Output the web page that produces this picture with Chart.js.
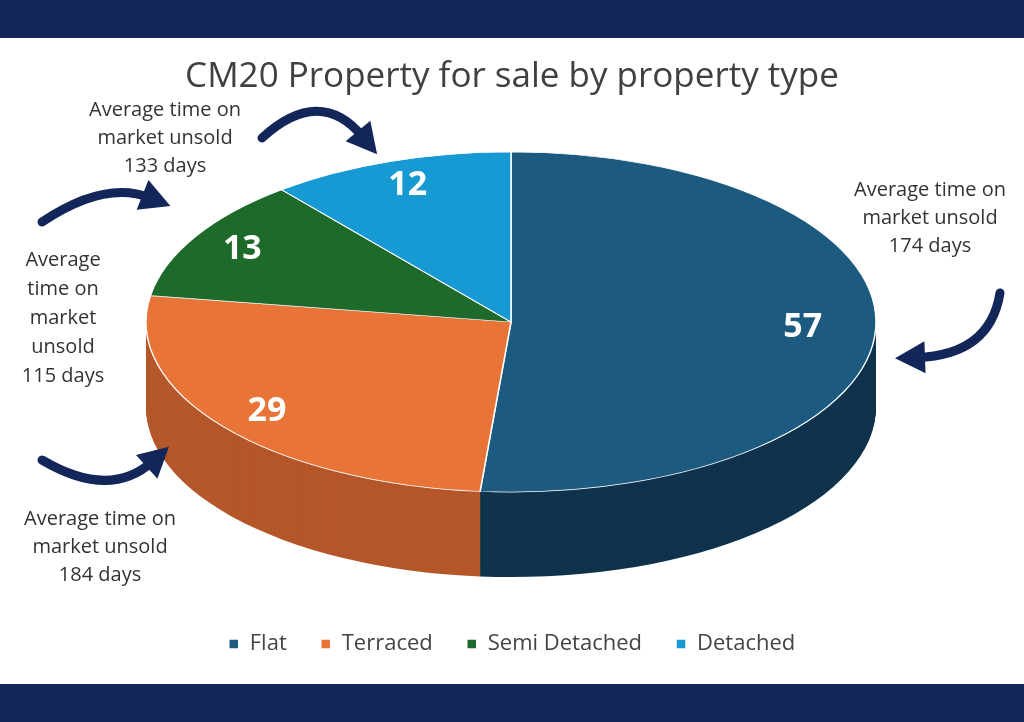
<!DOCTYPE html>
<html lang="en">
<head>
<meta charset="utf-8">
<title>CM20 Property for sale by property type</title>
<script src="https://cdn.jsdelivr.net/npm/chart.js"></script>
<style>
  html, body { margin: 0; padding: 0; background: #fff; }
  #wrap { width: 1024px; height: 722px; }
</style>
</head>
<body>
<div id="wrap"><canvas id="chart" width="1024" height="722"></canvas></div>
<script>
// data
const categories = ['Flat', 'Terraced', 'Semi Detached', 'Detached'];
const counts = [57, 29, 13, 12];
const topColours = ['#1c5a7f', '#e97438', '#1e6a2b', '#1799d4'];
const sideColours = ['#10334d', '#b4572a', '#134a1d', '#0f6c99'];

// geometry of the tilted pie (screen pixels)
const CX = 511, CY = 322, R = 365, TILT = 0.466, DEPTH = 85;

function tilt(ctx, chart, dy) {
  const arc = chart.getDatasetMeta(0).data[0];
  ctx.translate(CX, CY + dy);
  ctx.scale(1, TILT);
  ctx.translate(-arc.x, -arc.y);
}

const pie3d = {
  id: 'pie3d',
  beforeDraw(chart) {
    const ctx = chart.ctx;
    ctx.save();
    ctx.fillStyle = '#13265a';
    ctx.fillRect(0, 0, 1024, 38);
    ctx.fillRect(0, 684, 1024, 38);
    ctx.restore();
  },
  beforeDatasetsDraw(chart) {
    const ctx = chart.ctx;
    const arcs = chart.getDatasetMeta(0).data;
    // side wall, built up from the bottom
    for (let d = DEPTH; d > 0; d--) {
      ctx.save();
      tilt(ctx, chart, d);
      arcs.forEach((a, i) => {
        ctx.beginPath();
        ctx.moveTo(a.x, a.y);
        ctx.arc(a.x, a.y, a.outerRadius, a.startAngle, a.endAngle);
        ctx.closePath();
        ctx.fillStyle = sideColours[i];
        ctx.fill();
      });
      ctx.restore();
    }
    ctx.save();
    tilt(ctx, chart, 0);
  },
  afterDatasetsDraw(chart) {
    const ctx = chart.ctx;
    ctx.restore();
    // value labels
    const arcs = chart.getDatasetMeta(0).data;
    ctx.save();
    ctx.font = 'bold 34px "Open Sans", sans-serif';
    ctx.fillStyle = '#fff';
    ctx.textAlign = 'center';
    ctx.textBaseline = 'middle';
    arcs.forEach((a, i) => {
      const m = (a.startAngle + a.endAngle) / 2;
      const f = i === 0 ? 0.8 : 0.85;
      ctx.fillText(counts[i], CX + f * R * Math.cos(m), CY + f * R * TILT * Math.sin(m));
    });
    ctx.restore();
  },
  afterDraw(chart) {
    const ctx = chart.ctx;
    ctx.save();
    ctx.font = '20px "Open Sans", sans-serif';
    ctx.fillStyle = '#333';
    ctx.textAlign = 'center';
    ctx.textBaseline = 'middle';
    const notes = [
      [165, 110, 28, ['Average time on', 'market unsold', '133 days']],
      [930, 190, 28, ['Average time on', 'market unsold', '174 days']],
      [63, 260, 29, ['Average', 'time on', 'market', 'unsold', '115 days']],
      [100, 519, 28, ['Average time on', 'market unsold', '184 days']]
    ];
    notes.forEach(([x, y, lh, lines]) => lines.forEach((t, k) => ctx.fillText(t, x, y + k * lh)));

    // curved arrows
    const arrows = [
      [262, 138, 320, 85, 372, 148],
      [42, 222, 105, 180, 163, 203],
      [1000, 293, 990, 355, 903, 358],
      [42, 460, 110, 500, 163, 452]
    ];
    ctx.strokeStyle = '#13265a';
    ctx.fillStyle = '#13265a';
    ctx.lineWidth = 9;
    ctx.lineCap = 'round';
    arrows.forEach(([x0, y0, qx, qy, x1, y1]) => {
      const ang = Math.atan2(y1 - qy, x1 - qx);
      const bx = x1 - 14 * Math.cos(ang), by = y1 - 14 * Math.sin(ang);
      ctx.beginPath();
      ctx.moveTo(x0, y0);
      ctx.quadraticCurveTo(qx, qy, bx, by);
      ctx.stroke();
      ctx.beginPath();
      ctx.moveTo(x1 + 8 * Math.cos(ang), y1 + 8 * Math.sin(ang));
      ctx.lineTo(bx + 16 * Math.cos(ang + Math.PI / 2) - 8 * Math.cos(ang), by + 16 * Math.sin(ang + Math.PI / 2) - 8 * Math.sin(ang));
      ctx.lineTo(bx + 16 * Math.cos(ang - Math.PI / 2) - 8 * Math.cos(ang), by + 16 * Math.sin(ang - Math.PI / 2) - 8 * Math.sin(ang));
      ctx.closePath();
      ctx.fill();
    });
    ctx.restore();
  }
};

new Chart(document.getElementById('chart'), {
  type: 'pie',
  data: {
    labels: categories,
    datasets: [{
      data: counts,
      backgroundColor: topColours,
      borderColor: '#ffffff',
      borderWidth: 1.5,
      radius: R
    }]
  },
  options: {
    responsive: false,
    animation: false,
    layout: { padding: { bottom: 57 } },
    plugins: {
      tooltip: { enabled: false },
      title: {
        display: true,
        text: 'CM20 Property for sale by property type',
        color: '#404040',
        font: { family: '"Open Sans", sans-serif', size: 35, weight: 'normal' },
        padding: { top: 56, bottom: 10 }
      },
      legend: {
        position: 'bottom',
        labels: {
          color: '#444',
          font: { family: '"Open Sans", sans-serif', size: 22 },
          boxWidth: 10,
          boxHeight: 10,
          padding: 34
        }
      }
    }
  },
  plugins: [pie3d]
});
</script>
</body>
</html>
